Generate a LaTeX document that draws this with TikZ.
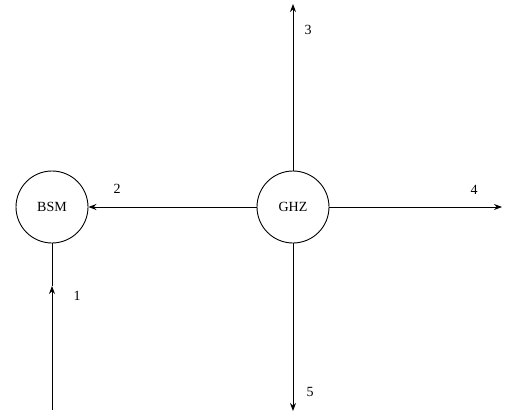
\documentclass[tikz,border=0pt]{standalone}
\usepackage{fontspec}
\setmainfont{Liberation Serif}
\usetikzlibrary{arrows.meta}
\begin{document}
\begin{tikzpicture}[x=1pt,y=-1pt,
  station/.style={draw, circle, minimum size=72pt, inner sep=0pt, line width=0.9pt, font=\fontsize{14}{16}\selectfont},
  wire/.style={line width=0.9pt},
  arr/.style={wire, -{Stealth[length=8pt,width=6pt]}},
  num/.style={font=\fontsize{14}{16}\selectfont}]
\useasboundingbox (0,0) rectangle (508,417);
\node[station] (bsm) at (52,207) {BSM};
\node[station] (ghz) at (293,207) {GHZ};
\coordinate (src) at (52,410);
\coordinate (mid) at (52,286);
\coordinate (up) at (293,4);
\coordinate (right) at (502,207);
\coordinate (down) at (293,411);
% incoming photon 1 with arrow halfway
\draw[arr] (src) -- (mid);
\draw[wire] (mid) -- (bsm.south);
\draw[arr] (ghz.west) -- (bsm.east);
\draw[arr] (ghz.north) -- (up);
\draw[arr] (ghz.east) -- (right);
\draw[arr] (ghz.south) -- (down);
\node[num] (l1) at (77,296) {1};
\node[num] (l2) at (117,189) {2};
\node[num] (l3) at (308,30) {3};
\node[num] (l4) at (474,190) {4};
\node[num] (l5) at (310,392) {5};
\end{tikzpicture}
\end{document}
